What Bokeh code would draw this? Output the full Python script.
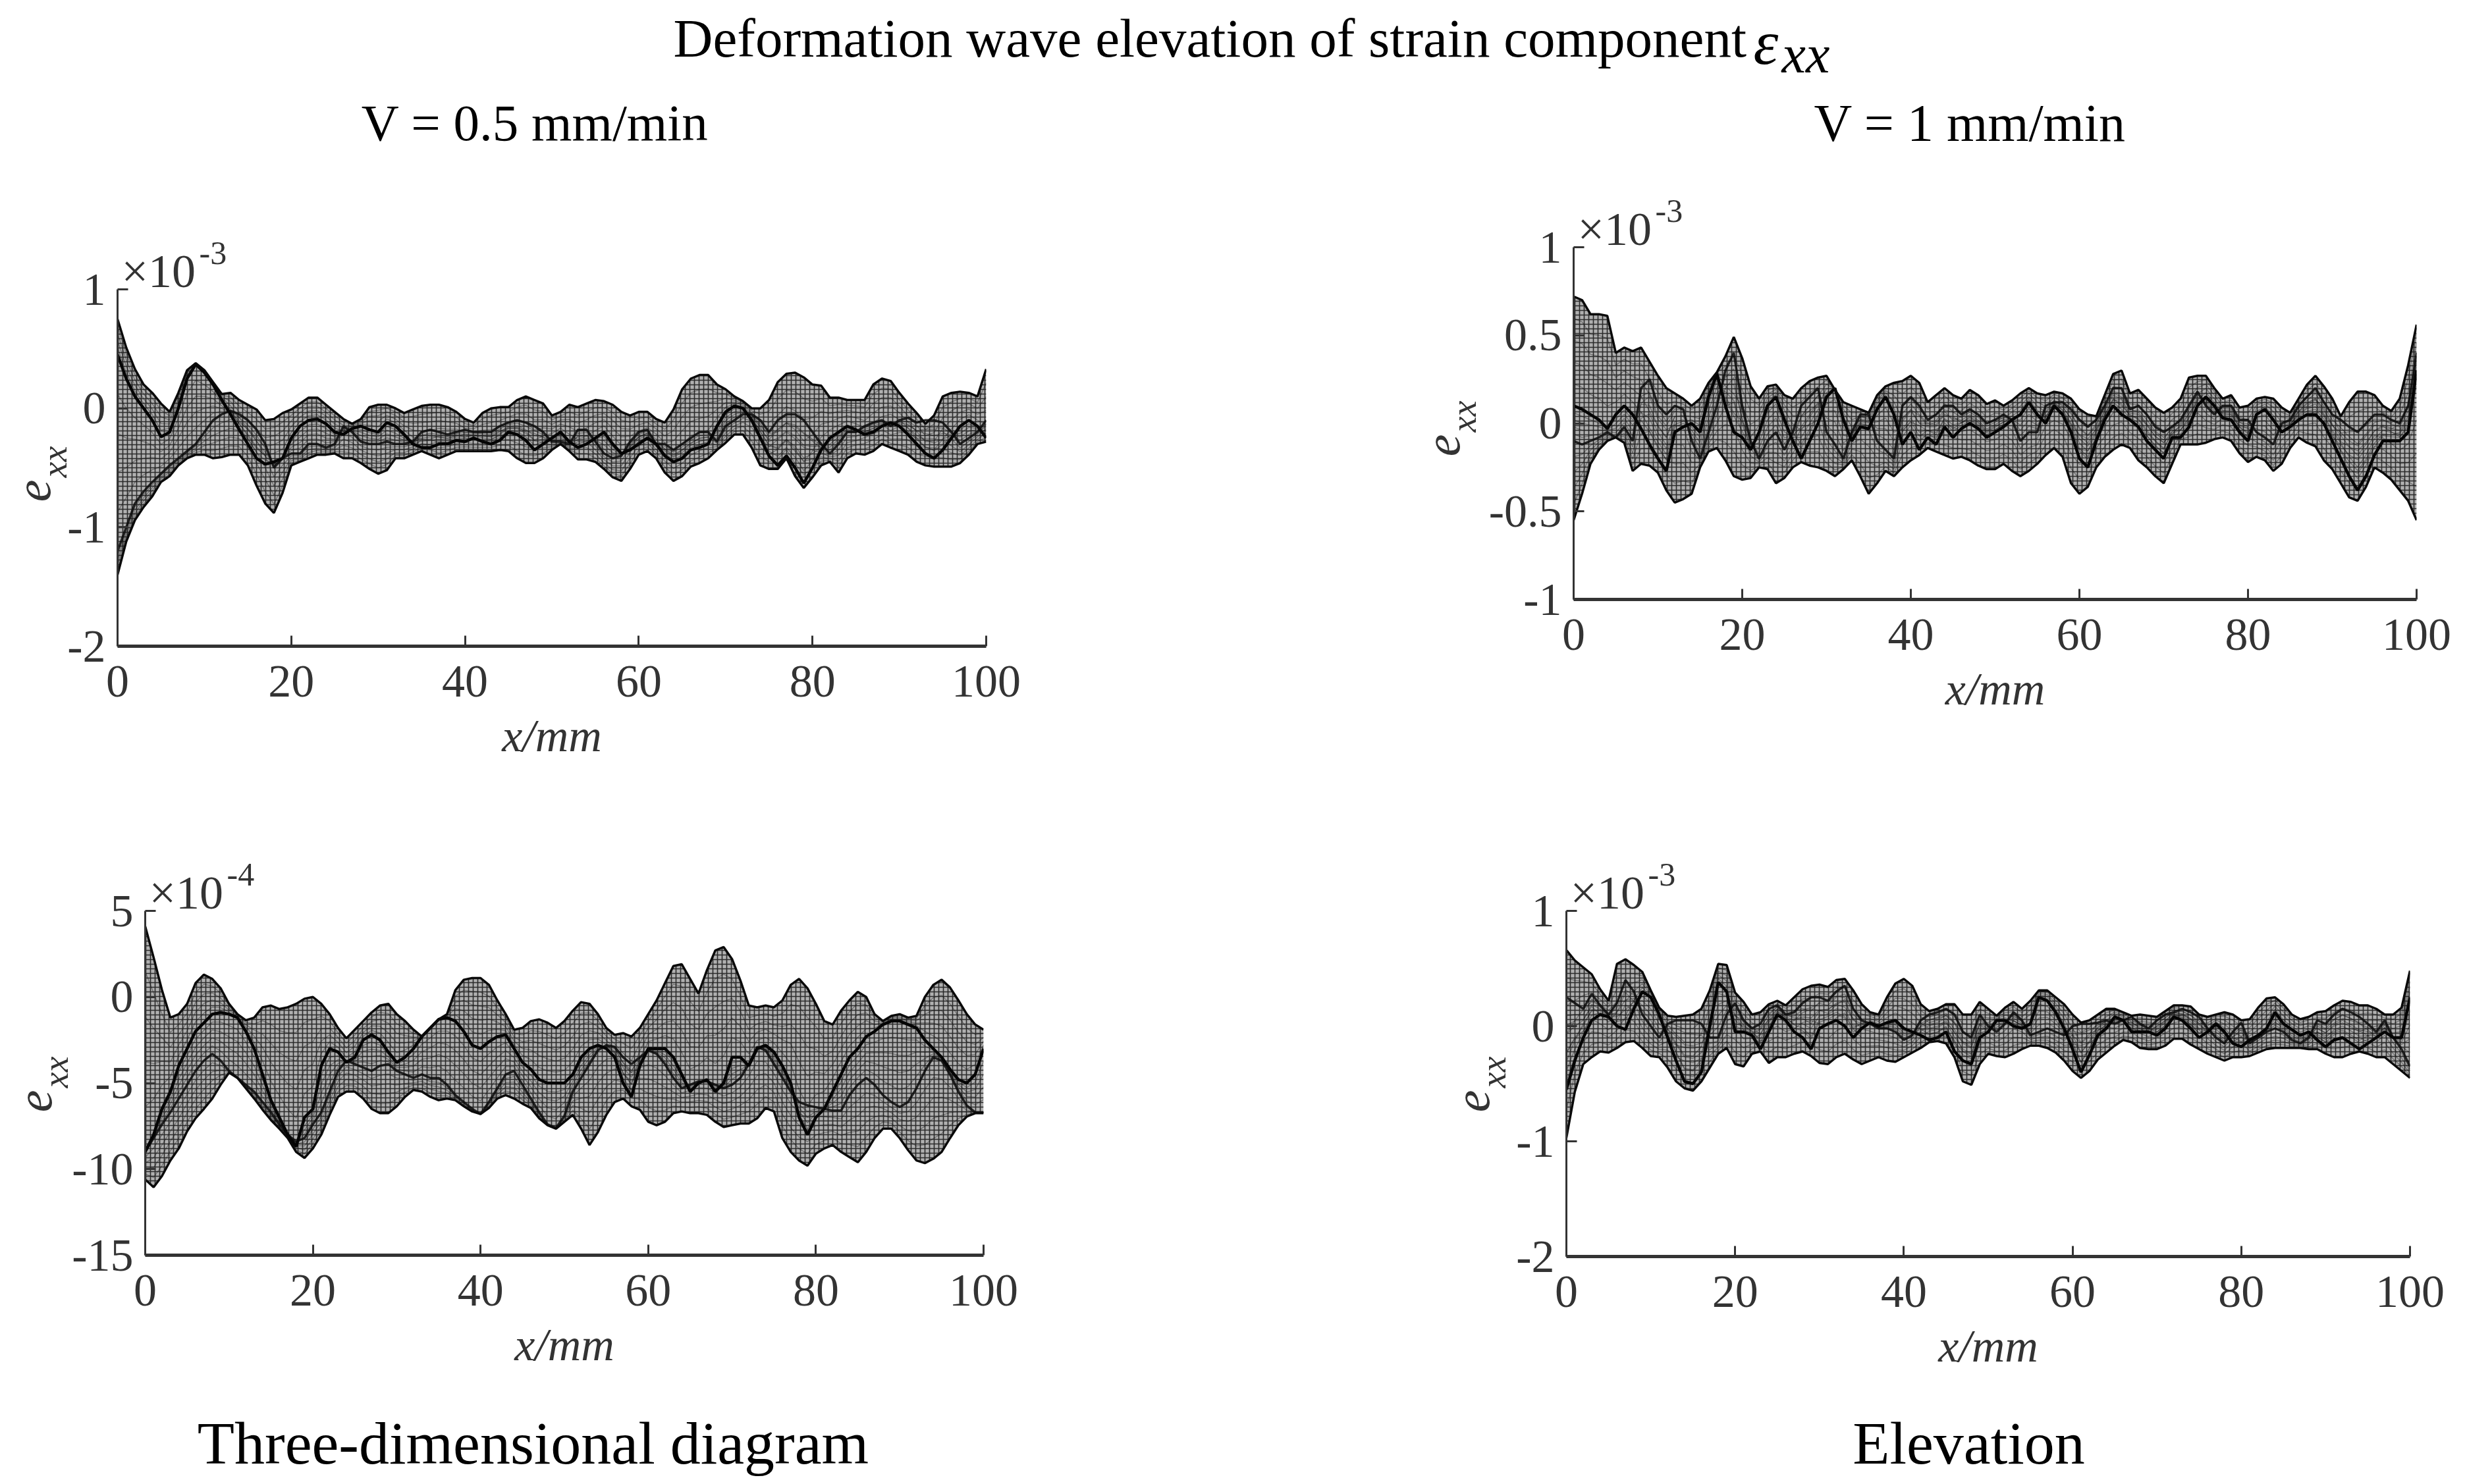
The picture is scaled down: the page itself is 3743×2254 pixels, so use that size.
import numpy as np
from bokeh.embed import file_html
from bokeh.resources import INLINE
from bokeh.plotting import figure
from bokeh.layouts import column, row
from bokeh.models import Label, FixedTicker, Spacer, GridBox

X_MM = list(range(0, 101))
X_TICKS = [0, 20, 40, 60, 80, 100]

TITLE = "Deformation wave elevation of strain component"
HEAD_L = "V = 0.5 mm/min"
HEAD_R = "V = 1 mm/min"
FOOT_L = "Three-dimensional diagram"
FOOT_R = "Elevation"

# Panel A: V = 0.5, top (x 1e-3)
A_TICKS = [-2, -1, 0, 1]
A_UP = [.75,.51,.33,.20,.13,.04,-.03,.13,.32,.38,.32,.22,.12,.13,.07,.03,-.01,-.10,-.09,-.04,-.01,.04,.09,.09,.03,-.03,-.09,-.13,-.09,.01,.03,.03,0,-.04,-.01,.02,.03,.03,.01,-.03,-.09,-.12,-.04,0,.01,.01,.07,.10,.07,.04,-.06,-.03,.03,.01,.04,.07,.06,.03,-.03,-.06,-.03,-.03,-.09,-.12,-.01,.16,.25,.28,.28,.20,.16,.10,.06,0,0,.07,.22,.29,.30,.26,.20,.19,.09,.09,.07,.07,.07,.20,.25,.23,.13,.04,-.04,-.13,-.06,.10,.13,.14,.13,.10,.33]
A_LOW = [-1.4,-1.12,-.94,-.83,-.74,-.62,-.57,-.48,-.42,-.39,-.39,-.42,-.41,-.39,-.39,-.48,-.65,-.80,-.88,-.71,-.48,-.45,-.42,-.39,-.39,-.38,-.42,-.42,-.46,-.51,-.55,-.52,-.42,-.42,-.39,-.36,-.39,-.42,-.39,-.36,-.36,-.36,-.36,-.36,-.35,-.36,-.42,-.46,-.46,-.42,-.35,-.30,-.36,-.43,-.43,-.45,-.51,-.58,-.61,-.51,-.39,-.36,-.42,-.54,-.61,-.57,-.49,-.46,-.42,-.35,-.29,-.22,-.22,-.33,-.48,-.51,-.51,-.42,-.57,-.67,-.58,-.48,-.45,-.54,-.42,-.38,-.39,-.36,-.30,-.33,-.36,-.39,-.45,-.48,-.49,-.49,-.49,-.46,-.39,-.30,-.28]
A_MID = [.45,.25,.1,0,-.1,-.24,-.2,0,.25,.37,.3,.2,.07,-.05,-.18,-.3,-.42,-.47,-.45,-.42,-.25,-.15,-.1,-.09,-.13,-.2,-.22,-.17,-.15,-.18,-.2,-.12,-.15,-.22,-.3,-.33,-.33,-.3,-.3,-.27,-.28,-.25,-.28,-.3,-.27,-.2,-.22,-.27,-.35,-.3,-.25,-.2,-.28,-.33,-.3,-.25,-.2,-.3,-.38,-.35,-.3,-.25,-.3,-.4,-.45,-.42,-.35,-.33,-.3,-.15,-.03,.02,0,-.1,-.25,-.4,-.48,-.4,-.5,-.63,-.5,-.35,-.25,-.2,-.15,-.18,-.22,-.2,-.15,-.12,-.15,-.22,-.3,-.38,-.42,-.35,-.25,-.15,-.1,-.15,-.25]
A_MID2 = [-1.2,-1,-.8,-.7,-.62,-.55,-.48,-.42,-.36,-.3,-.2,-.1,-.05,-.02,-.05,-.1,-.18,-.3,-.5,-.42,-.38,-.38,-.3,-.3,-.33,-.3,-.15,-.2,-.28,-.3,-.3,-.28,-.3,-.3,-.28,-.2,-.18,-.2,-.22,-.2,-.18,-.2,-.2,-.2,-.15,-.12,-.1,-.12,-.15,-.2,-.28,-.28,-.3,-.18,-.18,-.28,-.38,-.42,-.4,-.28,-.2,-.18,-.3,-.3,-.35,-.3,-.25,-.2,-.2,-.28,-.15,-.1,-.05,-.05,-.1,-.2,-.1,-.05,-.05,-.1,-.2,-.3,-.38,-.3,-.2,-.2,-.15,-.12,-.1,-.15,-.1,-.08,-.12,-.1,-.1,-.12,-.2,-.3,-.25,-.2,-.1]

# Panel B: V = 1, top (x 1e-3)
B_TICKS = [-1, -0.5, 0, 0.5, 1]
B_UP = [.72,.70,.62,.62,.61,.40,.43,.41,.43,.35,.27,.20,.17,.14,.10,.14,.23,.29,.38,.49,.37,.21,.14,.21,.22,.16,.14,.20,.24,.26,.27,.19,.12,.10,.08,.06,.16,.21,.23,.24,.27,.23,.12,.16,.20,.16,.14,.19,.16,.11,.13,.10,.13,.17,.20,.17,.16,.18,.17,.14,.08,.05,.04,.16,.28,.30,.17,.19,.14,.09,.06,.09,.14,.26,.27,.27,.20,.14,.16,.09,.10,.14,.15,.14,.09,.06,.14,.22,.27,.21,.14,.04,.12,.18,.18,.16,.10,.07,.14,.33,.56]
B_LOW = [-.55,-.40,-.23,-.15,-.10,-.08,-.11,-.27,-.23,-.24,-.28,-.38,-.45,-.43,-.40,-.25,-.16,-.14,-.21,-.30,-.32,-.31,-.25,-.26,-.34,-.31,-.25,-.22,-.24,-.25,-.27,-.30,-.26,-.21,-.30,-.40,-.34,-.27,-.30,-.25,-.21,-.18,-.14,-.16,-.18,-.20,-.19,-.21,-.24,-.26,-.26,-.23,-.27,-.30,-.27,-.23,-.18,-.14,-.19,-.34,-.40,-.36,-.25,-.19,-.15,-.12,-.14,-.21,-.25,-.30,-.34,-.23,-.12,-.12,-.12,-.11,-.09,-.08,-.10,-.17,-.22,-.19,-.21,-.27,-.23,-.14,-.08,-.11,-.13,-.21,-.26,-.34,-.42,-.44,-.36,-.25,-.28,-.32,-.38,-.44,-.55]
B_MID = [.1,.08,.05,.02,-.03,.05,.1,.05,-.03,-.12,-.2,-.27,-.05,-.02,0,-.05,.15,.28,.1,-.05,-.08,-.15,-.05,.1,.15,.02,-.1,-.2,-.1,0,.15,.2,.02,-.1,-.02,-.03,.08,.15,.05,-.12,-.05,-.15,-.08,-.12,-.02,-.08,-.03,0,-.03,-.08,-.05,-.02,.02,.05,.12,.05,0,.1,.05,-.05,-.2,-.25,-.1,.02,.1,.05,.02,-.02,-.1,-.15,-.2,-.08,-.08,-.02,.1,.15,.1,.03,.02,-.05,-.1,.05,.08,.02,-.05,-.02,.02,.05,.05,0,-.1,-.2,-.3,-.38,-.3,-.18,-.1,-.1,-.1,-.05,.3]
B_MID2 = [-.1,-.12,-.1,-.08,-.05,-.08,-.02,-.1,.2,.25,.1,.05,.1,.08,-.1,-.2,-.05,.1,.3,.4,.1,-.1,-.2,-.1,-.05,-.15,-.05,.1,.15,.2,-.05,-.12,-.2,-.05,.05,.05,-.1,-.15,-.2,.1,.15,.1,.02,.05,.1,.1,.05,.08,.05,0,.02,.05,.02,-.1,-.05,-.05,.1,.12,.12,.08,.02,-.02,.02,.1,.2,.2,.08,.1,.05,-.02,-.05,-.02,.02,.1,.18,.1,.05,.1,.1,.02,.02,-.05,-.08,-.12,0,.02,.1,.15,.2,.12,.05,.02,-.02,-.05,0,.05,.05,.02,0,.1,.4]

# Panel C: V = 0.5, bottom (x 1e-4)
C_TICKS = [-15, -10, -5, 0, 5]
C_UP = [4.1,2.3,.4,-1.2,-1.0,-.4,.8,1.3,1.05,.5,-.4,-1.0,-1.35,-1.2,-.6,-.5,-.7,-.6,-.4,-.1,0,-.4,-1.0,-1.8,-2.4,-1.9,-1.4,-.9,-.5,-.4,-1.0,-1.4,-1.9,-2.3,-1.8,-1.3,-1.0,.4,1.0,1.1,1.1,.7,-.2,-1.0,-1.9,-1.8,-1.4,-1.3,-1.5,-1.8,-1.4,-.8,-.3,-.4,-1.0,-1.8,-2.2,-2.1,-2.3,-1.8,-1.0,-.2,.8,1.8,1.9,1.05,.2,1.55,2.7,2.9,2.2,.95,-.5,-.6,-.5,-.6,-.2,.7,1.05,.5,-.4,-1.4,-1.6,-.8,-.2,.3,0,-1.0,-1.4,-1.1,-1.0,-1.2,-1.1,0,.7,1.0,.55,-.2,-1.0,-1.6,-1.9]
C_LOW = [-10.6,-11.05,-10.4,-9.5,-8.8,-7.8,-7.05,-6.5,-5.9,-5.1,-4.4,-4.7,-5.3,-5.9,-6.55,-7.15,-7.65,-8.2,-9.0,-9.35,-8.8,-8.0,-6.85,-5.8,-5.5,-5.5,-5.9,-6.5,-6.75,-6.75,-6.35,-5.8,-5.4,-5.5,-5.8,-6.0,-5.9,-6.0,-6.35,-6.65,-6.8,-6.45,-5.9,-5.7,-5.9,-6.2,-6.45,-7.05,-7.45,-7.65,-7.25,-6.85,-7.65,-8.6,-7.85,-6.85,-6.1,-5.9,-6.35,-6.55,-7.25,-7.45,-7.25,-6.75,-6.65,-6.75,-6.75,-6.85,-7.25,-7.55,-7.45,-7.35,-7.35,-7.05,-6.45,-6.65,-8.2,-9.0,-9.5,-9.8,-9.1,-8.8,-8.6,-9.0,-9.3,-9.6,-9.0,-8.2,-7.65,-7.65,-8.2,-8.9,-9.5,-9.65,-9.4,-9.0,-8.2,-7.45,-6.95,-6.75,-6.75]
C_MID = [-9,-8,-6.5,-5.5,-4,-3,-2,-1.5,-1,-.9,-1,-1.2,-2,-3,-4.5,-6,-7,-8,-8.7,-7,-6.5,-4,-3,-3.2,-3.8,-3.5,-2.5,-2.2,-2.5,-3.2,-3.8,-3.5,-3,-2.3,-1.8,-1.3,-1.2,-1.4,-2,-2.8,-3,-2.6,-2.3,-2.2,-3,-3.8,-4.2,-4.8,-5,-5,-5,-4.5,-3.5,-3,-2.8,-3,-3.5,-5,-5.8,-4,-3,-3,-3,-3.5,-4.5,-5.5,-5,-4.8,-5.5,-5,-3.5,-3.5,-4,-3,-2.8,-3.2,-4,-5,-7,-8,-7,-6.5,-5.5,-4.5,-3.5,-3,-2.3,-2,-1.6,-1.4,-1.4,-1.6,-1.8,-2.5,-3,-3.5,-4.2,-4.8,-5,-4.5,-3]
C_MID2 = [-9,-8.2,-7.4,-6.7,-5.9,-5.1,-4.3,-3.7,-3.3,-3.7,-4.3,-4.7,-5.1,-5.5,-6.1,-6.7,-7.4,-8,-8.4,-8.2,-7.4,-6.7,-5.5,-4.3,-3.7,-3.9,-4.1,-4.3,-4,-3.9,-4.3,-4.5,-4.7,-4.5,-4.7,-4.7,-5.1,-5.7,-6.1,-6.5,-6.8,-6.1,-5.3,-4.5,-4.3,-5.1,-5.9,-6.7,-7.4,-7.6,-6.9,-5.5,-4.7,-3.9,-3.1,-2.8,-2.9,-3.5,-3.9,-3.5,-3.1,-3.3,-3.9,-4.7,-5.3,-5.1,-4.9,-4.9,-5.1,-5.3,-5.1,-4.7,-3.9,-2.9,-3.1,-3.9,-4.7,-5.5,-6.1,-6.3,-6.4,-6.5,-6.6,-6.6,-5.7,-5.1,-4.7,-5.1,-5.7,-6.1,-6.4,-6.1,-5.3,-4.3,-3.5,-3.7,-4.5,-5.5,-6.3,-6.7,-6.7]

# Panel D: V = 1, bottom (x 1e-3)
D_TICKS = [-2, -1, 0, 1]
D_UP = [.66,.57,.51,.45,.32,.22,.54,.58,.53,.47,.31,.16,.09,.08,.09,.10,.15,.31,.54,.53,.29,.21,.10,.12,.19,.22,.18,.25,.32,.35,.36,.34,.40,.41,.31,.19,.12,.10,.25,.37,.41,.35,.19,.13,.15,.19,.19,.10,.10,.21,.15,.09,.16,.21,.15,.22,.31,.31,.25,.19,.10,.03,.05,.10,.15,.15,.12,.09,.10,.09,.08,.13,.18,.18,.17,.10,.08,.10,.12,.10,.05,.06,.16,.24,.25,.19,.10,.06,.08,.12,.13,.18,.22,.21,.18,.18,.15,.10,.10,.16,.48]
D_LOW = [-.97,-.57,-.33,-.27,-.22,-.23,-.19,-.14,-.13,-.19,-.26,-.27,-.36,-.48,-.54,-.56,-.48,-.36,-.24,-.19,-.33,-.35,-.24,-.22,-.32,-.27,-.27,-.24,-.22,-.26,-.32,-.33,-.27,-.24,-.29,-.33,-.30,-.27,-.30,-.31,-.27,-.23,-.19,-.14,-.13,-.15,-.27,-.48,-.51,-.33,-.24,-.26,-.27,-.24,-.20,-.17,-.17,-.19,-.23,-.30,-.39,-.45,-.39,-.29,-.23,-.17,-.12,-.14,-.19,-.20,-.20,-.17,-.11,-.11,-.16,-.20,-.24,-.27,-.30,-.27,-.27,-.26,-.23,-.20,-.19,-.19,-.19,-.19,-.20,-.20,-.24,-.27,-.27,-.24,-.22,-.24,-.27,-.27,-.33,-.39,-.45]
D_MID = [-.55,-.3,-.1,.05,.1,.08,0,-.03,.15,.3,.25,.1,-.1,-.3,-.48,-.5,-.4,0,.38,.3,-.05,-.05,-.08,-.2,-.05,.1,.05,-.05,-.1,-.2,-.02,.02,.05,0,-.1,-.02,.03,0,.03,.05,-.02,-.05,-.08,-.12,-.1,-.05,-.22,-.3,-.33,-.1,-.05,.05,.05,0,-.02,.02,.25,.22,.12,-.02,-.2,-.4,-.25,-.08,-.02,.08,.05,-.05,-.05,-.05,-.08,-.02,.08,.05,-.02,-.1,-.05,.02,-.05,-.15,-.18,-.12,-.08,-.02,.12,.02,-.03,-.08,-.05,-.12,-.18,-.12,-.1,-.15,-.2,-.15,-.1,-.05,-.1,-.1,.25]
D_MID2 = [.25,.2,.15,.28,.18,.1,.2,.4,.3,.1,0,-.1,.02,.05,.05,.05,.02,-.1,-.1,.1,.2,.05,-.02,.02,.15,.18,.1,.12,.2,.25,.25,.22,.3,.35,.15,.05,.02,-.02,-.02,-.05,-.12,-.08,.05,.1,.12,.15,.1,-.05,-.1,.1,0,-.05,.02,.12,.05,-.08,-.05,-.02,-.05,-.08,0,.02,.02,.03,.05,.02,.05,.08,.02,-.02,.05,.1,.12,.15,.12,.08,-.02,-.1,-.15,-.05,.03,-.15,-.1,-.05,-.02,-.05,-.12,-.15,-.1,.05,.02,.1,.15,.12,.08,.02,-.05,.05,-.1,-.2,-.35]

SERIF = "Liberation Serif"
AX = "#333333"
PAGE_W = 3735
HEAD_H = 250
ROW2 = 1250
PAGE_B = 2246
COL2 = 2100

# one transparent figure as large as the page carries all free-standing text
layer = figure(width=PAGE_W, height=PAGE_B, x_range=(0, PAGE_W), y_range=(0, PAGE_B),
               toolbar_location=None, output_backend="svg", min_border=0, outline_line_color=None,
               background_fill_color=None, border_fill_color=None)
layer.axis.visible = False
layer.grid.visible = False


def label(px, py, text, size, align="center", base="middle", style="normal", angle=0.0, color="#000000"):
    layer.add_layout(Label(x=px, y=PAGE_B - py, x_units="data", y_units="data", text=text,
                           text_font=SERIF, text_font_size=f"{size}px", text_font_style=style,
                           text_align=align, text_baseline=base, angle=angle, text_color=color))


def panel(left, right, top, bottom, org_x, org_y, w, org_b, ylim, yticks, up, low, mid, mid2, exp, lab_e):
    p = figure(frame_width=right - left, frame_height=bottom - top,
               min_border_left=left - org_x, min_border_right=org_x + w - right,
               min_border_top=top - org_y, min_border_bottom=org_b - bottom,
               x_range=(0, 100), y_range=ylim, toolbar_location=None, output_backend="svg",
               background_fill_color="white", border_fill_color="white")
    p.outline_line_color = None
    p.grid.visible = False

    xs = np.array(X_MM, dtype=float)
    u, l, m, m2 = np.array(up), np.array(low), np.array(mid), np.array(mid2)
    p.varea(xs, l, u, fill_color="#b0b0b0", fill_alpha=1.0, hatch_pattern="cross",
            hatch_scale=7, hatch_weight=1.6, hatch_color="#2a2a2a")
    fr = np.arange(1, 5) / 5
    mesh = []
    for a, b in ((u, m), (m, m2), (m2, l)):
        mesh += [list(a + (b - a) * f) for f in fr]
    p.multi_line([list(xs)] * len(mesh), mesh, line_color="#111111", line_width=1.3, line_alpha=0.4)
    p.line(xs, m2, line_color="#0a0a0a", line_width=3.5, line_alpha=0.85)
    p.line(xs, m, line_color="#050505", line_width=4.5)
    p.line(xs, u, line_color="#0a0a0a", line_width=3.5)
    p.line(xs, l, line_color="#0a0a0a", line_width=3.5)

    xa, ya = p.xaxis[0], p.yaxis[0]
    xa.ticker = FixedTicker(ticks=X_TICKS)
    ya.ticker = FixedTicker(ticks=yticks)
    ya.major_label_overrides = {t: (str(int(t)) if float(t).is_integer() else str(t)) for t in yticks}
    for a in (xa, ya):
        a.axis_line_color = AX
        a.major_tick_line_color = AX
        a.major_tick_line_width = 3
        a.major_tick_in = 16
        a.major_tick_out = 0
        a.minor_tick_line_color = None
        a.major_label_text_font = SERIF
        a.major_label_text_font_size = "70px"
        a.major_label_text_color = AX
    xa.axis_line_width = 5
    ya.axis_line_width = 3
    xa.major_label_standoff = 30
    ya.major_label_standoff = 18
    xa.axis_label = "x/mm"
    xa.axis_label_text_font = SERIF
    xa.axis_label_text_font_style = "italic"
    xa.axis_label_text_font_size = "70px"
    xa.axis_label_text_color = AX
    xa.axis_label_standoff = 18

    label(left + 6, top - 28, "×10", 72, align="left", color=AX)
    label(left + 124, top - 55, exp, 50, align="left", color=AX)
    ex, ey = lab_e
    label(ex, ey, "e", 76, style="italic", angle=np.pi / 2, color=AX)
    label(ex + 32, ey - 44, "xx", 54, style="italic", angle=np.pi / 2, color=AX)
    return p


label(1022, 57, TITLE, 83, align="left")
label(2662, 64, "ε", 96, align="left", style="italic")
label(2705, 82, "xx", 82, align="left", style="italic")
label(812, 186, HEAD_L, 79)
label(2991, 186, HEAD_R, 80)
label(809, 2191, FOOT_L, 92)
label(2989, 2191, FOOT_R, 92)

P1_Y = 314  # first left panel's canvas starts lower than the right one
p1 = panel(178, 1497, 439, 981, 0, P1_Y, COL2, ROW2, (-2, 1), A_TICKS,
           A_UP, A_LOW, A_MID, A_MID2, "-3", (50, 745))
p2 = panel(2389, 3669, 375, 910, COL2, HEAD_H, PAGE_W - COL2, ROW2, (-1, 1), B_TICKS,
           B_UP, B_LOW, B_MID, B_MID2, "-3", (2190, 676))
p3 = panel(220, 1493, 1383, 1906, 0, ROW2, COL2, PAGE_B, (-15, 5), C_TICKS,
           C_UP, C_LOW, C_MID, C_MID2, "-4", (52, 1672))
p4 = panel(2378, 3659, 1383, 1908, COL2, ROW2, PAGE_W - COL2, PAGE_B, (-2, 1), D_TICKS,
           D_UP, D_LOW, D_MID, D_MID2, "-3", (2235, 1672))

left_top = column(Spacer(width=COL2, height=P1_Y - HEAD_H), p1, spacing=0)
body = column(Spacer(width=PAGE_W, height=HEAD_H), row(left_top, p2, spacing=0),
              row(p3, p4, spacing=0), spacing=0)
page = GridBox(children=[(body, 0, 0), (layer, 0, 0)])
open("out.html", "w").write(file_html(page, INLINE))
